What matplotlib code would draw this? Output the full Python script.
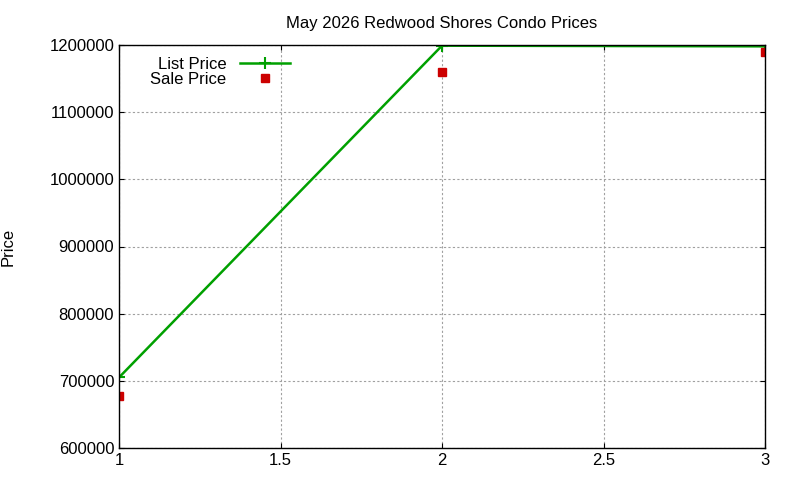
import matplotlib
matplotlib.use("Agg")
import matplotlib.pyplot as plt

x = [1, 2, 3]
list_price = [705000, 1199000, 1198000]
sale_price = [677000, 1160000, 1190000]
xticks = [1, 1.5, 2, 2.5, 3]
yticks = [600000, 700000, 800000, 900000, 1000000, 1100000, 1200000]

plt.rcParams['font.family'] = ['Liberation Sans', 'DejaVu Sans']
fig = plt.figure(figsize=(8, 4.8), dpi=100)
ax = fig.add_axes([119/800, 1-448/480, (765-119)/800, (448-45)/480])
ax.plot(x, list_price, color='#00a000', lw=1.8, marker='+', ms=8, mew=1.5, label='List Price')
ax.plot(x, sale_price, ls='none', marker='s', ms=6, color='#cc0000', label='Sale Price')
ax.set_xlim(1, 3)
ax.set_ylim(600000, 1200000)
ax.set_xticks(xticks)
ax.set_xticklabels(['1', '1.5', '2', '2.5', '3'])
ax.set_yticks(yticks)
ax.set_yticklabels([str(v) for v in yticks])
ax.grid(True, color='#a0a0a0', ls=(0, (2, 2)), lw=0.8)
ax.tick_params(labelsize=12, direction='in', top=True, right=True)
for s in ax.spines.values():
    s.set_linewidth(1)
ax.set_ylabel('Price', fontsize=12)
ax.yaxis.set_label_coords(-0.16, 0.5)
ax.set_title('May 2026 Redwood Shores Condo Prices', fontsize=12, pad=12)
leg = ax.legend(loc='upper left', bbox_to_anchor=(0.03, 1.0), frameon=False, fontsize=12,
                markerfirst=False, handlelength=3, borderpad=0.2, labelspacing=0.0)
for t in leg.get_texts():
    t.set_ha('right')
leg._legend_box.align = 'right'
fig.savefig('out.png')
